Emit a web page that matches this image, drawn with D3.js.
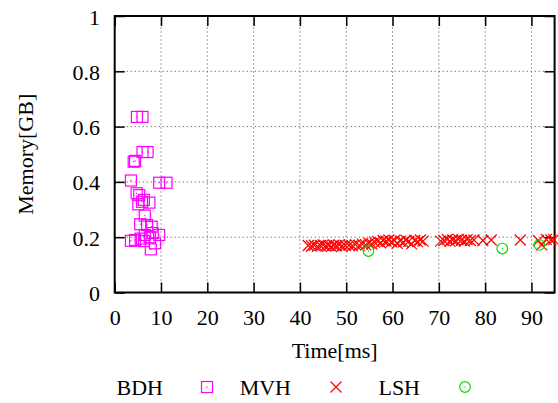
<!DOCTYPE html>
<html><head><meta charset="utf-8">
<script src="https://cdn.jsdelivr.net/npm/d3@7"></script>
<style>
body{margin:0;background:#fff;}
text{font-family:"Liberation Serif","Times New Roman",serif;fill:#000;}
</style></head>
<body><svg id="c" width="558" height="403"></svg>
<script>
const xTicks = [0,10,20,30,40,50,60,70,80,90];
const yTicks = [0,0.2,0.4,0.6,0.8,1];
const yTickLabels = ["0","0.2","0.4","0.6","0.8","1"];
const seriesNames = ["BDH","MVH","LSH"];
const seriesColors = ["#ff00ff","#ff0000","#00e000"];

const bdhX = [4.8,6.0,6.0,7.1,4.1,4.4,3.5,9.6,11.2,4.75,5.3,5.1,6.3,7.5,5.9,6.5,5.5,7.0,8.0,9.6,6.5,7.6,3.5,4.4,6.3,7.8,8.7,8.2,5.6];
const bdhY = [0.635,0.635,0.508,0.508,0.473,0.476,0.405,0.397,0.397,0.359,0.352,0.319,0.335,0.325,0.328,0.278,0.247,0.244,0.238,0.208,0.208,0.200,0.187,0.19,0.186,0.156,0.178,0.215,0.195];

const mvhX = [41.8,42.5,43.1,43.8,44.4,45.0,45.6,46.2,46.8,47.3,47.9,48.5,49.1,49.8,50.6,51.3,52.0,52.8,53.5,54.2,54.9,55.5,56.1,56.8,57.4,58.0,58.6,59.2,59.8,60.4,61.0,61.7,62.3,62.9,63.5,64.1,64.8,65.4,66.0,66.6,70.4,71.1,71.8,72.4,73.0,73.6,74.2,74.9,75.5,76.1,76.8,77.6,79.5,81.3,87.6,91.5,92.2,93.2,94.2,94.8];
const mvhY = [0.170,0.168,0.171,0.167,0.170,0.172,0.168,0.170,0.166,0.171,0.169,0.172,0.168,0.170,0.171,0.169,0.173,0.170,0.175,0.172,0.178,0.176,0.182,0.185,0.180,0.188,0.186,0.190,0.184,0.188,0.178,0.186,0.182,0.189,0.185,0.176,0.188,0.184,0.190,0.186,0.186,0.188,0.192,0.186,0.190,0.187,0.192,0.189,0.186,0.191,0.188,0.190,0.188,0.190,0.190,0.188,0.172,0.192,0.190,0.191];

const lshX = [54.8,83.7,91.7];
const lshY = [0.150,0.159,0.172];

const svg = d3.select("#c");
const L=114.7, R=554.6, T=16, B=292.5;
const x = d3.scaleLinear().domain([0,95]).range([L,R]);
const y = d3.scaleLinear().domain([0,1]).range([B,T]);
const FS = 22;

// grid
const g = svg.append("g");
g.selectAll(".gx").data(xTicks.filter(d=>d>0)).enter().append("line")
  .attr("x1",d=>x(d)).attr("x2",d=>x(d)).attr("y1",B).attr("y2",T)
  .attr("stroke","#444").attr("stroke-width",1).attr("stroke-dasharray","1,3");
g.selectAll(".gy").data(yTicks.filter(d=>d>0&&d<1)).enter().append("line")
  .attr("x1",L).attr("x2",R).attr("y1",d=>y(d)).attr("y2",d=>y(d))
  .attr("stroke","#444").attr("stroke-width",1).attr("stroke-dasharray","1,3");

// axes with inward ticks
const tk = 10;
const axB = svg.append("g").attr("transform",`translate(0,${B})`)
  .call(d3.axisBottom(x).tickValues(xTicks).tickSize(-tk).tickFormat(d3.format("d")));
const axT = svg.append("g").attr("transform",`translate(0,${T})`)
  .call(d3.axisTop(x).tickValues(xTicks).tickSize(-tk).tickFormat(""));
const axL = svg.append("g").attr("transform",`translate(${L},0)`)
  .call(d3.axisLeft(y).tickValues(yTicks).tickSize(-tk).tickFormat((d,i)=>yTickLabels[i]));
const axR = svg.append("g").attr("transform",`translate(${R},0)`)
  .call(d3.axisRight(y).tickValues(yTicks).tickSize(-tk).tickFormat(""));
[axB,axT,axL,axR].forEach(a=>{
  a.select(".domain").remove();
  a.selectAll(".tick line").attr("stroke","#000").attr("stroke-width",1.5);
  a.selectAll("text").attr("font-size",FS).attr("font-family","Liberation Serif").attr("fill","#000");
});
axB.selectAll(".tick text").attr("dy",null).attr("y",325-B).attr("text-anchor","middle");
axL.selectAll(".tick text").attr("dy",null).attr("x",100-L).attr("y",8).attr("text-anchor","end");

// frame
svg.append("rect").attr("x",L).attr("y",T).attr("width",R-L).attr("height",B-T)
  .attr("fill","none").attr("stroke","#000").attr("stroke-width",2);

// markers
function square(sel,cx,cy,col){
  sel.append("rect").attr("x",cx-5.5).attr("y",cy-5.5).attr("width",11).attr("height",11)
    .attr("fill","none").attr("stroke",col).attr("stroke-width",1.2);
  sel.append("rect").attr("x",cx-0.6).attr("y",cy-0.6).attr("width",1.2).attr("height",1.2).attr("fill",col);
}
function cross(sel,cx,cy,col){
  sel.append("path").attr("d",`M${cx-5.5},${cy-5.5}L${cx+5.5},${cy+5.5}M${cx-5.5},${cy+5.5}L${cx+5.5},${cy-5.5}`)
    .attr("stroke",col).attr("stroke-width",1.2).attr("fill","none");
}
function circ(sel,cx,cy,col){
  sel.append("circle").attr("cx",cx).attr("cy",cy).attr("r",5.3).attr("fill","none")
    .attr("stroke",col).attr("stroke-width",1.2);
  sel.append("circle").attr("cx",cx).attr("cy",cy).attr("r",0.7).attr("fill",col);
}
const pts = svg.append("g");
bdhX.forEach((d,i)=>square(pts,x(d),y(bdhY[i]),seriesColors[0]));
mvhX.forEach((d,i)=>cross(pts,x(d),y(mvhY[i]),seriesColors[1]));
lshX.forEach((d,i)=>circ(pts,x(d),y(lshY[i]),seriesColors[2]));

// axis titles
svg.append("text").attr("x",(L+R)/2).attr("y",358).attr("text-anchor","middle")
  .attr("font-size",FS).text("Time[ms]");
svg.append("text").attr("transform",`translate(33,${(T+B)/2}) rotate(-90)`).attr("text-anchor","middle")
  .attr("font-size",FS).text("Memory[GB]");

// legend
const legTextEnd = [163,291,420];
const legMark = [207,336,465];
const legY = 387;
const markers = [square,cross,circ];
seriesNames.forEach((n,i)=>{
  svg.append("text").attr("x",legTextEnd[i]).attr("y",395).attr("text-anchor","end")
    .attr("font-size",FS).text(n);
  markers[i](svg,legMark[i],legY,seriesColors[i]);
});
</script></body></html>
